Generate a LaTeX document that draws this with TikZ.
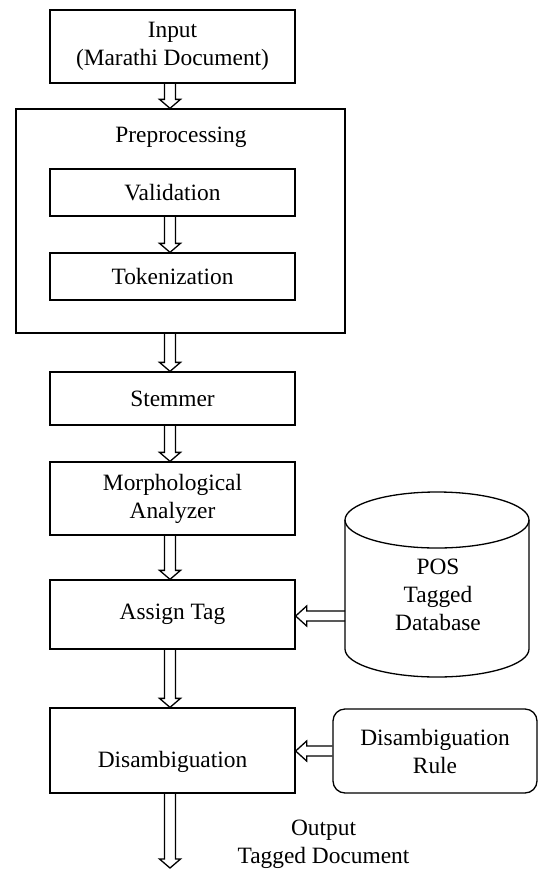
\documentclass[tikz,border=0pt]{standalone}
\usepackage{fontspec}
\setmainfont{Liberation Serif}
\usetikzlibrary{calc}
\tikzset{
  box/.style={draw, line width=1.3pt, minimum width=245pt, align=center, inner sep=0pt},
  flow/.style={draw, line width=1.3pt, line join=miter},
  txt/.style={align=center, inner sep=0pt}
}
\newcommand{\vflow}[2]{\draw[flow] let \p1=(#1), \p2=(#2) in
  (\x1-5.5pt,\y1) -- (\x1-5.5pt,\y2+9pt) -- (\x1-10.5pt,\y2+9pt) -- (\x1,\y2)
  -- (\x1+10.5pt,\y2+9pt) -- (\x1+5.5pt,\y2+9pt) -- (\x1+5.5pt,\y1);}
\newcommand{\hflow}[2]{\draw[flow] let \p1=(#1), \p2=(#2) in
  (\x1,\y1+5pt) -- (\x2+11pt,\y1+5pt) -- (\x2+11pt,\y1+10pt) -- (\x2,\y1)
  -- (\x2+11pt,\y1-10pt) -- (\x2+11pt,\y1-5pt) -- (\x1,\y1-5pt);}
\begin{document}
\begin{tikzpicture}[x=1pt, y=-1pt, font=\fontsize{23.4}{28}\selectfont]
\useasboundingbox (0,0) rectangle (539,871);
% main chain
\node[box, minimum height=73pt] (input) at (172.5,46.5) {Input\\(Marathi Document)};
\node[box, minimum width=329pt, minimum height=224pt] (prep) at (180.5,221) {};
\node[txt] (preplabel) at (181,137) {Preprocessing};
\node[box, minimum height=47pt] (valid) at (172.5,192.5) {Validation};
\node[box, minimum height=47pt] (token) at (172.5,276.5) {Tokenization};
\node[box, minimum height=53pt] (stem) at (172.5,398.5) {Stemmer};
\node[box, minimum height=73pt] (morph) at (172.5,498.5) {Morphological\\Analyzer};
\node[box, minimum height=69pt] (assign) at (172.5,614.5) {Assign Tag};
\node[box, minimum height=85pt] (dis) at (172.5,750.5) {\raisebox{-17pt}[0pt][0pt]{Disambiguation}};
% database cylinder
\draw[line width=1.3pt] (345,520) -- (345,649) arc[start angle=180, end angle=0, x radius=92, y radius=28] -- (529,520);
\draw[line width=1.3pt] (437,520) ellipse[x radius=92, y radius=28];
\node[txt] (db) at (438,595) {POS\\Tagged\\Database};
\coordinate (dbw) at (345,616);
% rule
\node[box, minimum width=204pt, minimum height=84pt, rounded corners=12pt] (rule) at (435,751) {Disambiguation\\Rule};
% output
\coordinate (out) at (170,868);
\node[txt] (outlabel) at (323.5,844) {Output\\Tagged Document};
% connectors
\vflow{[xshift=-2.5pt]input.south}{[xshift=-2.5pt]prep.north}
\vflow{[xshift=-2.5pt]valid.south}{[xshift=-2.5pt]token.north}
\vflow{[xshift=-10.5pt]prep.south}{[xshift=-2.5pt]stem.north}
\vflow{[xshift=-2.5pt]stem.south}{[xshift=-2.5pt]morph.north}
\vflow{[xshift=-2.5pt]morph.south}{[xshift=-2.5pt]assign.north}
\vflow{[xshift=-2.5pt]assign.south}{[xshift=-2.5pt]dis.north}
\vflow{[xshift=-2.5pt]dis.south}{out}
\hflow{dbw}{assign.east |- dbw}
\hflow{rule.west}{dis.east |- rule.west}
\end{tikzpicture}
\end{document}
